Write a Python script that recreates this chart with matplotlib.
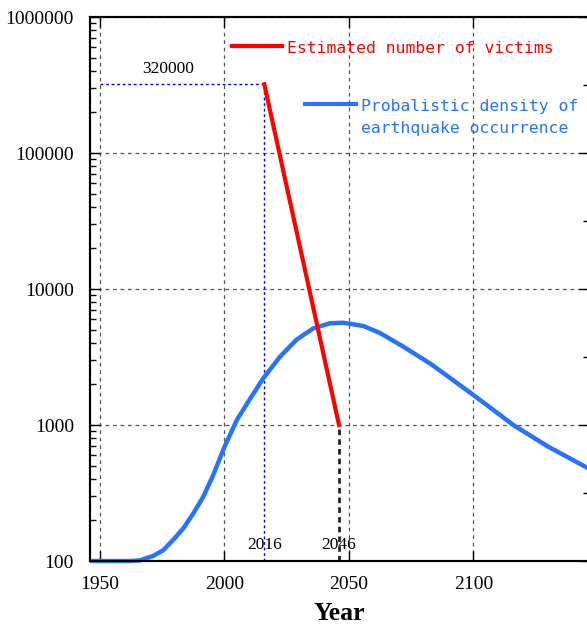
import matplotlib
matplotlib.use("Agg")
import matplotlib.pyplot as plt
from matplotlib.ticker import FixedLocator, NullFormatter

plt.rcParams["font.family"] = ["Liberation Serif", "DejaVu Serif"]

# probabilistic density of earthquake occurrence (drawn on the log axis)
density_years = [1946, 1955, 1962, 1966, 1971.4, 1975.4, 1979.4, 1983.5, 1987.5,
                 1991.5, 1995.5, 2000, 2005, 2010.3, 2015.6, 2022.3, 2029,
                 2035.7, 2042.4, 2047.7, 2055.7, 2062.4, 2071.8, 2082.5, 2089,
                 2100, 2108, 2116, 2123, 2130, 2138, 2146]
density_vals = [100, 100, 100, 101, 109, 120, 143, 174, 224,
                297, 429, 690, 1090, 1560, 2205, 3180, 4250,
                5140, 5600, 5650, 5350, 4750, 3770, 2840, 2330,
                1660, 1290, 1000, 832, 693, 578, 481]

# estimated number of victims
victim_years = [2016, 2046]
victim_vals = [320000, 1000]

ytick_vals = [100, 1000, 10000, 100000, 1000000]
ytick_labels = ["100", "1000", "10000", "100000", "1000000"]
xtick_vals = [1950, 2000, 2050, 2100]

RED = "#ff0000"
BLUE = "#2673ff"
MONO = ["DejaVu Sans Mono"]

fig = plt.figure(figsize=(5.87, 6.27), dpi=100)
ax = fig.add_axes([90 / 587, 66 / 627, 499 / 587, 544 / 627])

ax.set_yscale("log")
ax.set_xlim(1946, 2146.4)
ax.set_ylim(100, 1000000)

ax.grid(True, which="major", color="#555555", linestyle=(0, (3, 3)), linewidth=0.9)
ax.set_axisbelow(True)

# reference guides for the start and end of the victims line
ax.plot([1950, victim_years[0]], [victim_vals[0], victim_vals[0]],
        color="#0000ff", linewidth=1, linestyle=(0, (2, 2)))
ax.plot([victim_years[0], victim_years[0]], [100, victim_vals[0]],
        color="#0000ff", linewidth=1, linestyle=(0, (2, 2)))
ax.plot([victim_years[1], victim_years[1]], [100, victim_vals[1]],
        color="#222222", linewidth=2, linestyle=(0, (2, 1.5)))

ax.plot(density_years, density_vals, color=BLUE, linewidth=3.2,
        clip_on=False, zorder=4, solid_capstyle="butt", solid_joinstyle="round")
ax.plot(victim_years, victim_vals, color=RED, linewidth=3, zorder=5)

ax.annotate(f"{victim_vals[0]}", xy=(1977.5, victim_vals[0]), xytext=(0, 5),
            textcoords="offset points", ha="center", va="bottom", fontsize=12.5)
for yr in victim_years:
    ax.annotate(f"{yr}", xy=(yr, 100), xytext=(0, 6), textcoords="offset points",
                ha="center", va="bottom", fontsize=12.5, zorder=1)

# hand-placed key
ax.plot([0.2846, 0.3848], [0.9467, 0.9467], transform=ax.transAxes,
        color=RED, linewidth=3, clip_on=False)
ax.text(0.3948, 0.9338, "Estimated number of victims", transform=ax.transAxes,
        color=RED, fontsize=11.8, family=MONO, va="baseline")
ax.plot([0.4309, 0.533], [0.840, 0.840], transform=ax.transAxes,
        color=BLUE, linewidth=3, clip_on=False)
ax.text(0.543, 0.787, "Probalistic density of\nearthquake occurrence",
        transform=ax.transAxes, color=BLUE, fontsize=11.8, family=MONO,
        va="baseline", linespacing=1.6)

ax.set_yticks(ytick_vals)
ax.set_yticklabels(ytick_labels)
ax.yaxis.set_minor_formatter(NullFormatter())
ax.set_xticks(xtick_vals)
ax.tick_params(axis="both", which="major", direction="in", length=7.2, width=1,
               labelsize=14, top=True, right=False)
ax.tick_params(axis="y", which="major", pad=11.5)
ax.tick_params(axis="x", which="major", pad=10.5)
ax.tick_params(axis="y", which="minor", direction="in", length=4.3, width=1, right=False)
ax.set_xlabel("Year", fontsize=18.5, fontweight="bold", labelpad=7)

for side in ax.spines.values():
    side.set_linewidth(1.5)

# linear secondary scale on the right
ax2 = ax.twinx()
ax2.set_ylim(0, 8)
ax2.yaxis.set_major_locator(FixedLocator([0, 2, 4, 6, 8]))
ax2.yaxis.set_minor_locator(FixedLocator([1, 3, 5, 7]))
ax2.tick_params(axis="y", which="major", direction="in", length=7.2, width=1,
                labelright=False)
ax2.tick_params(axis="y", which="minor", direction="in", length=4.3, width=1)
for side in ax2.spines.values():
    side.set_linewidth(1.5)

fig.savefig("out.png", dpi=100, facecolor="white")
